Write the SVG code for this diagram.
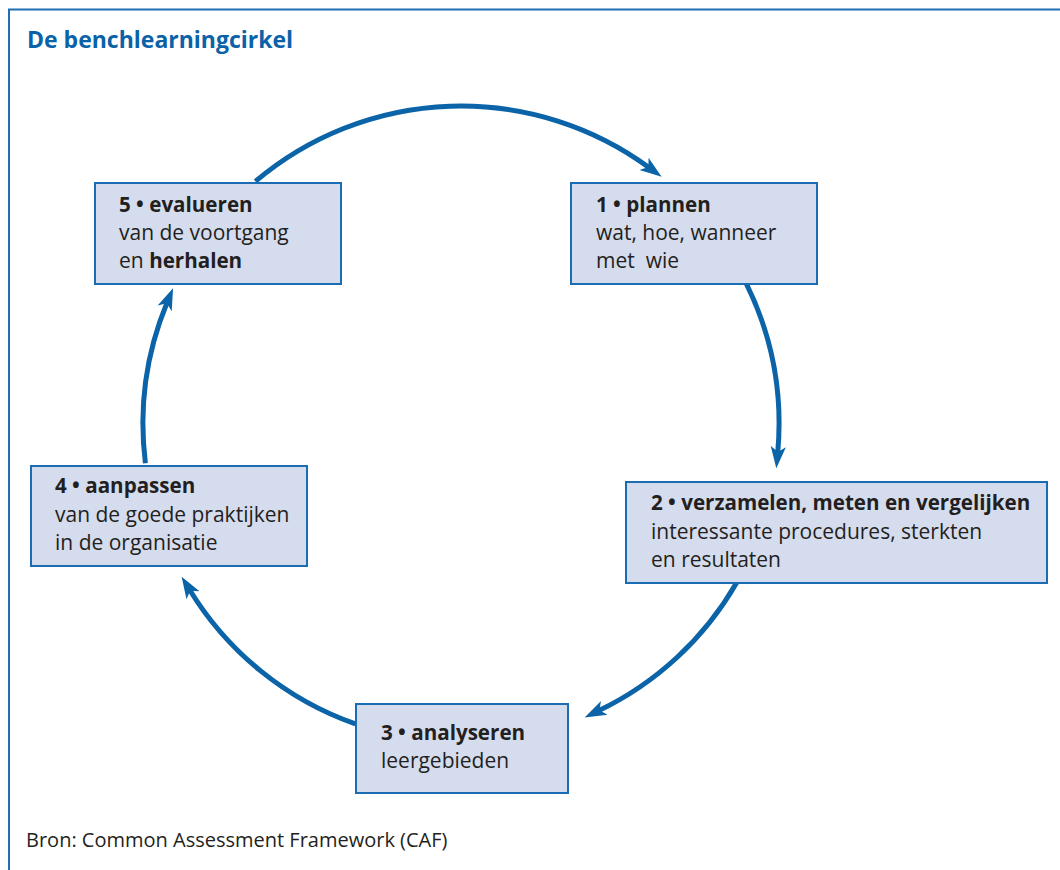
<svg xmlns="http://www.w3.org/2000/svg" width="1060" height="870" viewBox="0 0 1060 870">
  <style>
    .frame { fill: none; stroke: #1f6fb2; stroke-width: 2; }
    .title { font-family: "Open Sans", "Liberation Sans", sans-serif; font-weight: 700; font-size: 23px; fill: #0a62a8; }
    .box { fill: #d5dced; stroke: #1a6db3; stroke-width: 2; }
    .lbl { font-family: "Open Sans", "Liberation Sans", sans-serif; font-size: 21px; fill: #231f20; }
    .b { font-weight: 700; font-size: 20.6px; }
    .src { font-family: "Open Sans", "Liberation Sans", sans-serif; font-size: 20px; fill: #231f20; }
    .arc { fill: none; stroke: #0b63a8; stroke-width: 5; marker-end: url(#head); }
  </style>
  <defs>
    <marker id="head" markerUnits="userSpaceOnUse" markerWidth="24" markerHeight="18" viewBox="0 -8 22 16" refX="6" refY="0" orient="auto">
      <path d="M0,-7 L20,0 L0,7 L5,0 Z" fill="#0b63a8"/>
    </marker>
  </defs>

  <rect width="1060" height="870" fill="#ffffff"/>
  <path class="frame" d="M9,870 V9.5 H1060"/>
  <text class="title" x="27" y="48">De benchlearningcirkel</text>

  <!-- cycle arcs on one circle, centre (461,424), r 318 -->
  <g id="connectors">
    <path class="arc" d="M255.4,181.4 A318,318 0 0 1 649.3,167.7"/>
    <path class="arc" d="M746.3,283.6 A318,318 0 0 1 777.7,453.0"/>
    <path class="arc" d="M736.6,582.7 A318,318 0 0 1 598.4,710.8"/>
    <path class="arc" d="M355.4,723.9 A318,318 0 0 1 189.6,589.7"/>
    <path class="arc" d="M145.4,463.3 A318,318 0 0 1 167.2,302.3"/>
  </g>

  <g id="step1">
    <rect class="box" x="571" y="183" width="246" height="101"/>
    <text class="lbl" x="596" y="212"><tspan class="b">1 • plannen</tspan></text>
    <text class="lbl" x="596" y="240">wat, hoe, wanneer</text>
    <text class="lbl" x="596" y="268" xml:space="preserve">met  wie</text>
  </g>

  <g id="step2">
    <rect class="box" x="626" y="482" width="421" height="101"/>
    <text class="lbl" x="651" y="510"><tspan class="b">2 • verzamelen, meten en vergelijken</tspan></text>
    <text class="lbl" x="651" y="538.5">interessante procedures, sterkten</text>
    <text class="lbl" x="651" y="567">en resultaten</text>
  </g>

  <g id="step3">
    <rect class="box" x="356" y="704" width="212" height="89"/>
    <text class="lbl" x="381" y="740"><tspan class="b">3 • analyseren</tspan></text>
    <text class="lbl" x="381" y="768">leergebieden</text>
  </g>

  <g id="step4">
    <rect class="box" x="31" y="466" width="276" height="100"/>
    <text class="lbl" x="55" y="493"><tspan class="b">4 • aanpassen</tspan></text>
    <text class="lbl" x="55" y="522">van de goede praktijken</text>
    <text class="lbl" x="55" y="550">in de organisatie</text>
  </g>

  <g id="step5">
    <rect class="box" x="95" y="183" width="246" height="101"/>
    <text class="lbl" x="119" y="212"><tspan class="b">5 • evalueren</tspan></text>
    <text class="lbl" x="119" y="240">van de voortgang</text>
    <text class="lbl" x="119" y="268">en <tspan class="b">herhalen</tspan></text>
  </g>

  <text class="src" x="26" y="847">Bron: Common Assessment Framework (CAF)</text>
</svg>
